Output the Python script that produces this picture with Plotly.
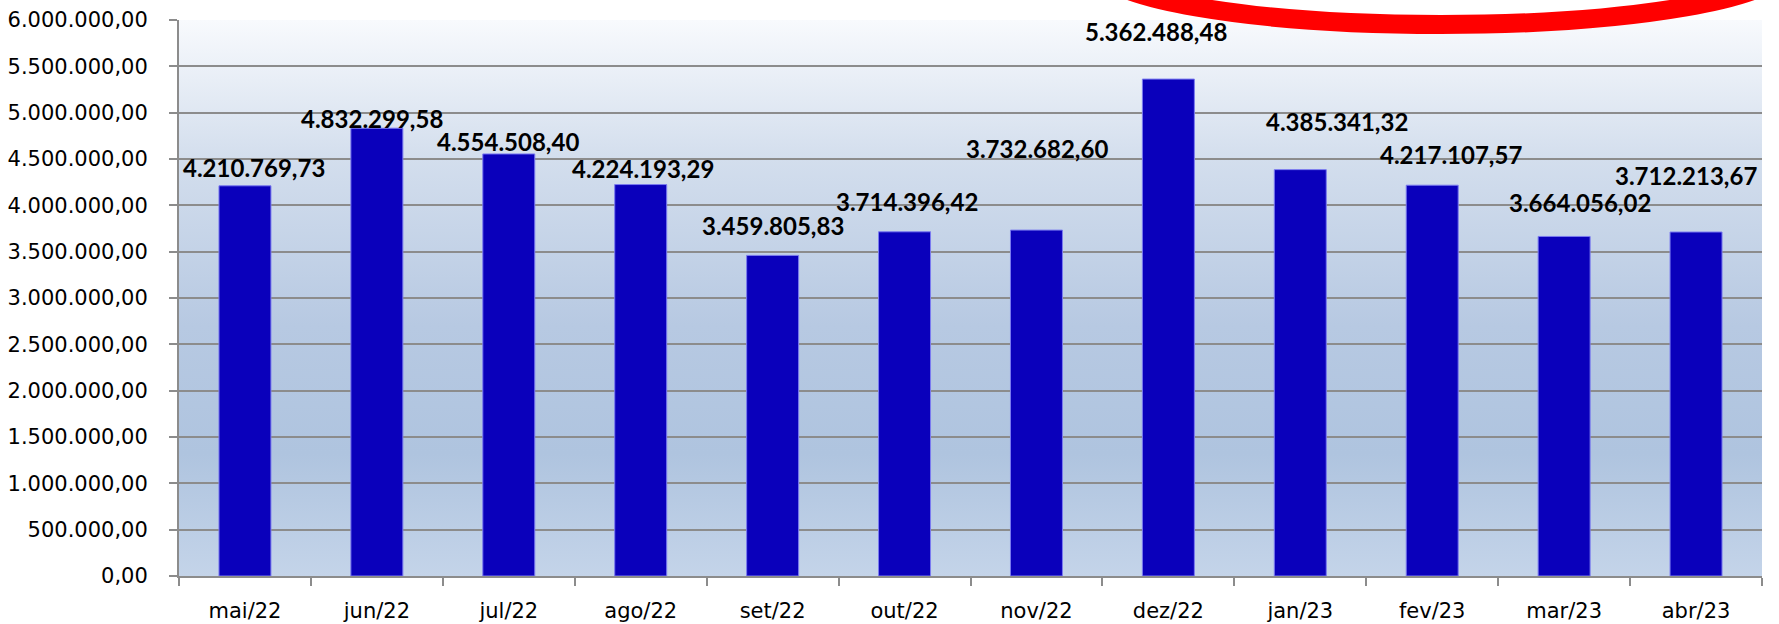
import base64
import plotly.graph_objects as go

# ---- data ----
months = ["mai/22", "jun/22", "jul/22", "ago/22", "set/22", "out/22",
          "nov/22", "dez/22", "jan/23", "fev/23", "mar/23", "abr/23"]
values = [4210769.73, 4832299.58, 4554508.40, 4224193.29, 3459805.83, 3714396.42,
          3732682.60, 5362488.48, 4385341.32, 4217107.57, 3664056.02, 3712213.67]
y_ticks = [i * 500000 for i in range(13)]

# ---- style: label offsets in pixels (x, y) ----
label_dx = [9, -5, -1, 2, 0, 2, 1, -12, 37, 19, 16, -10]
label_dy = [18, 10, 12, 16, 30, 30, 82, 48, 48, 31, 34, 57]


def br(v):
    s = f"{v:,.2f}"
    return s.replace(",", "X").replace(".", ",").replace("X", ".")


svg = """<svg xmlns='http://www.w3.org/2000/svg' width='100' height='100' preserveAspectRatio='none'>
<defs><linearGradient id='g' x1='0' y1='0' x2='0' y2='1'>
<stop offset='0' stop-color='#f8fafd'/>
<stop offset='0.25' stop-color='#d3deed'/>
<stop offset='0.55' stop-color='#b7c9e2'/>
<stop offset='0.78' stop-color='#afc4df'/>
<stop offset='1' stop-color='#c4d4e9'/>
</linearGradient></defs>
<rect width='100' height='100' fill='url(#g)'/></svg>"""
img_src = "data:image/svg+xml;base64," + base64.b64encode(svg.encode()).decode()

fig = go.Figure()
fig.add_trace(go.Bar(
    x=months, y=values,
    marker=dict(color="#0a00bb", line=dict(color="#7b7bf0", width=1)),
    hoverinfo="skip",
))

for m, v, dx, dy in zip(months, values, label_dx, label_dy):
    fig.add_annotation(x=m, y=v, text=br(v), showarrow=False,
                       xanchor="center", yanchor="middle",
                       xshift=dx, yshift=dy,
                       font=dict(family="Lato", size=24, color="#000000", weight="bold"))

fig.add_layout_image(dict(source=img_src, xref="paper", yref="paper",
                          x=0, y=1, sizex=1, sizey=1, sizing="stretch",
                          xanchor="left", yanchor="top", layer="below"))

# red ellipse highlight
fig.add_shape(type="circle", xref="paper", yref="paper",
              x0=0.5783, x1=1.0161, y0=0.9919, y1=1.2077,
              line=dict(color="#ff0000", width=19), layer="above")

fig.update_layout(
    width=1779, height=624,
    margin=dict(l=179, r=17, t=20, b=48),
    paper_bgcolor="white", plot_bgcolor="rgba(0,0,0,0)",
    separators=",.",
    bargap=0.606,
    showlegend=False,
    font=dict(family="DejaVu Sans", size=21, color="#000000"),
)
fig.update_xaxes(
    automargin=False,
    showgrid=False, showline=True, linecolor="#8c8c8c", linewidth=2,
    ticks="outside", ticklen=8, tickwidth=2, tickcolor="#8c8c8c",
    tickson="boundaries", ticklabelstandoff=15,
    tickfont=dict(family="DejaVu Sans", size=21),
)
fig.update_yaxes(
    automargin=False,
    range=[0, 6000000], tickvals=y_ticks, tickformat=",.2f",
    showgrid=True, gridcolor="#8c8c8c", gridwidth=2,
    showline=True, linecolor="#8c8c8c", linewidth=2,
    ticks="outside", ticklen=8, tickwidth=2, tickcolor="#8c8c8c",
    ticklabelstandoff=17, zeroline=False,
    tickfont=dict(family="DejaVu Sans", size=21),
)

fig.write_html(
    "out.html",
    config={"displayModeBar": False, "staticPlot": True},
    post_script="document.body.style.margin='0';document.body.style.overflow='hidden';",
)
